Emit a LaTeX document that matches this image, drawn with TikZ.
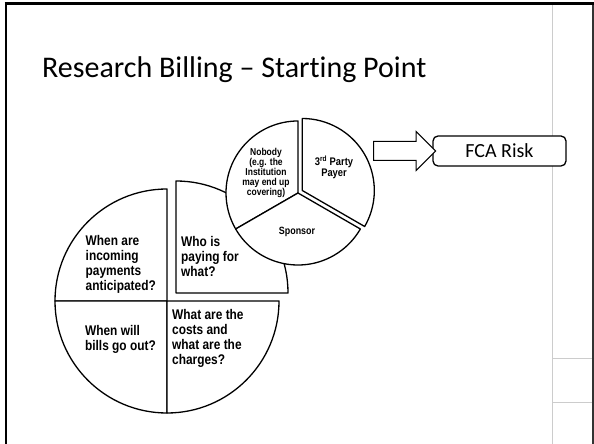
\documentclass[tikz,border=0pt]{standalone}
\usepackage{fontspec}
\setmainfont{Carlito}[Ligatures={TeX,NoCommon}]
\newfontfamily\narrowsans[FakeStretch=0.85]{Liberation Sans}
\usetikzlibrary{shapes.arrows, positioning}

\tikzset{
    wedge/.style={draw=black, line width=1.3pt, fill=white, line join=round},
    bigq/.style={font=\narrowsans\bfseries\fontsize{14}{15}\selectfont, align=left, inner sep=0pt},
    smallq/.style={font=\narrowsans\bfseries\fontsize{10}{10}\selectfont, align=center, inner sep=0pt},
    guide/.style={draw=black!20, line width=0.8pt}
}

\begin{document}
\begin{tikzpicture}[x=1pt, y=1pt]
    \useasboundingbox (0,0) rectangle (594,444);
    % slide frame
    \draw[guide] (552,0) -- (552,439);
    \draw[guide] (552,86) -- (593,86);
    \draw[guide] (552,42) -- (593,42);
    \draw[line width=2pt] (5.5,0) -- (5.5,439.5);
    \draw[line width=1.6pt, black!80] (593,0) -- (593,439.5);
    \draw[line width=3pt] (4.5,440) -- (594,440);
    \node[anchor=base west, inner sep=0pt, font=\fontsize{30}{36}\selectfont] (title) at (42,366) {Research Billing – Starting Point};

    % big pie, "who is paying" piece pulled out
    \foreach \a/\b in {90/180, 180/270, 270/360}
        \filldraw[wedge] (167,143) -- ++(\a:112) arc[start angle=\a, end angle=\b, radius=112] -- cycle;
    \filldraw[wedge] (176,151) -- ++(0:112) arc[start angle=0, end angle=90, radius=112] -- cycle;
    \node[bigq, anchor=east] (incoming) at (156,179.5) {When are\\incoming\\payments\\anticipated?};
    \node[bigq, anchor=west] (who) at (181,188) {Who is\\paying for\\what?};
    \node[bigq, anchor=east] (bills) at (156,104.5) {When will\\bills go out?};
    \node[bigq, anchor=west] (costs) at (172,105.5) {What are the\\costs and\\what are the\\charges?};

    % small pie on top
    \foreach \a/\b in {90/210, 210/330}
        \filldraw[wedge] (298,251) -- ++(\a:72) arc[start angle=\a, end angle=\b, radius=72] -- cycle;
    \filldraw[wedge] (302.3,253.5) -- ++(-30:72) arc[start angle=-30, end angle=90, radius=72] -- cycle;
    \node[smallq] (nobody) at (266,271) {Nobody\\(e.g. the\\Institution\\may end up\\covering)};
    \node[smallq, font=\narrowsans\bfseries\fontsize{11}{11}\selectfont] (payer) at (334,276.5) {3\textsuperscript{rd} Party\\Payer};
    \node[smallq, font=\narrowsans\bfseries\fontsize{10.5}{10.5}\selectfont] (sponsor) at (297,212) {Sponsor};

    % risk box and block arrow
    \node[draw, fill=white, line width=1.3pt, rounded corners=5pt, minimum width=133pt, minimum height=30pt,
          font=\fontsize{20}{20}\selectfont] (fca) at (499.5,293) {FCA Risk};
    \node[single arrow, draw, fill=white, line width=1pt, inner xsep=0pt, inner ysep=9pt,
          minimum height=62pt, single arrow head extend=10pt, anchor=tip] (riskarrow) at ([xshift=4pt]fca.west) {};
\end{tikzpicture}
\end{document}
